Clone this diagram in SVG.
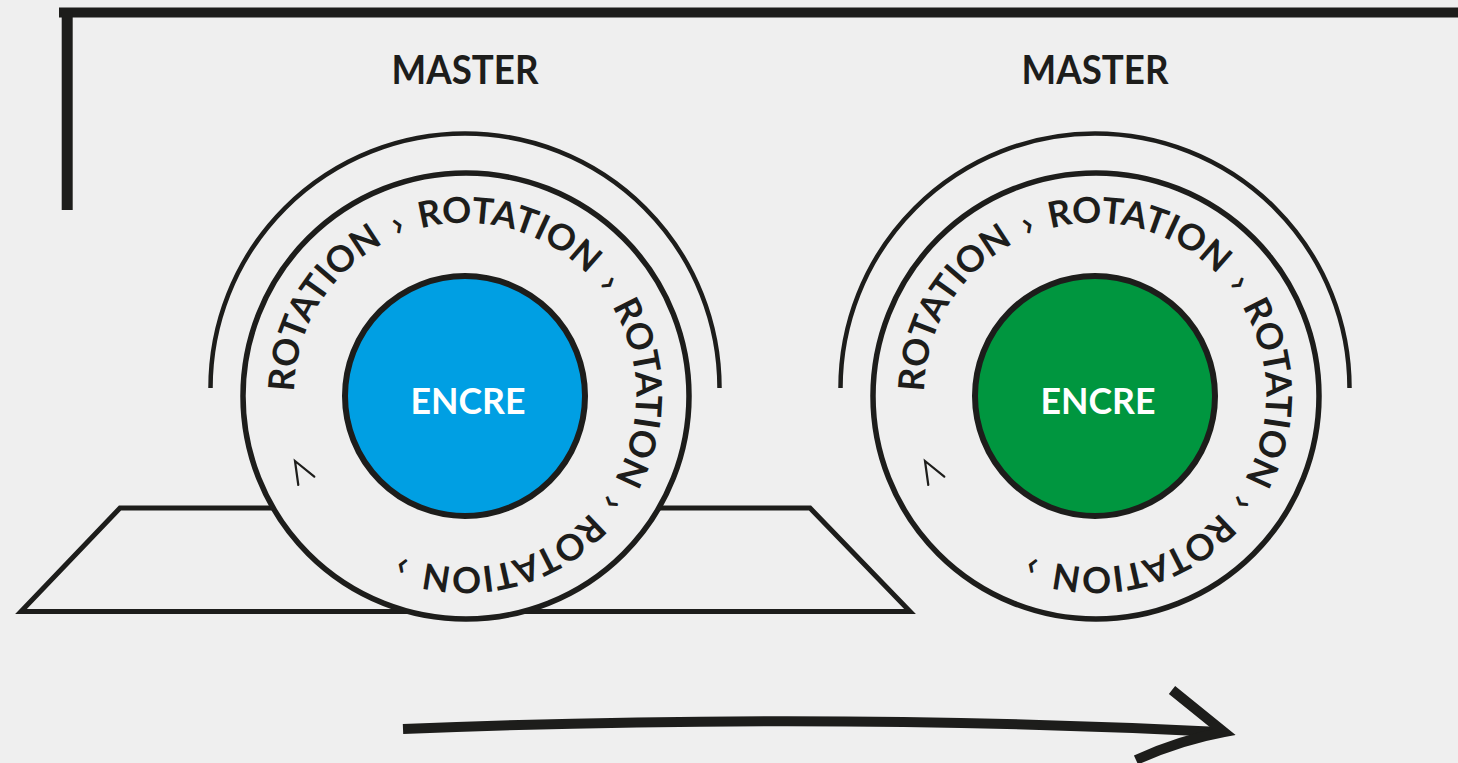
<svg xmlns="http://www.w3.org/2000/svg" xmlns:xlink="http://www.w3.org/1999/xlink" width="1458" height="763" viewBox="0 0 1458 763">
<defs>
<style>
.ink{fill:none;stroke:#1d1d1b;stroke-linecap:butt;stroke-linejoin:miter}
.arc{stroke-width:4.5}
.ring{fill:#efefef;stroke:#1d1d1b;stroke-width:5.5}
.core{stroke:#1d1d1b;stroke-width:6}
.blue{fill:#009fe3}
.green{fill:#00963f}
.title{font-family:Lato,"Open Sans","Liberation Sans",sans-serif;font-weight:700;font-size:40px;fill:#1d1d1b;text-anchor:middle}
.encre{font-family:Lato,"Open Sans","Liberation Sans",sans-serif;font-weight:700;font-size:37px;fill:#ffffff;text-anchor:middle}
.rt{font-family:Lato,"Open Sans","Liberation Sans",sans-serif;font-weight:700;font-size:36px;fill:#1d1d1b;word-spacing:6px}
.chev{fill:none;stroke:#1d1d1b;stroke-width:2.2;stroke-linecap:round;stroke-linejoin:miter}
.thick{fill:none;stroke:#1d1d1b;stroke-width:10}
</style>
<path id="ringL" d="M 294.03 392.02 A 171 171 0 1 1 635.97 397.98 A 171 171 0 1 1 294.03 392.02"/>
<path id="ringR" d="M 924.03 392.02 A 171 171 0 1 1 1265.97 397.98 A 171 171 0 1 1 924.03 392.02"/>
</defs>
<rect x="0" y="0" width="1458" height="763" fill="#efefef"/>

<g id="frame">
<line class="thick" x1="59" y1="12.5" x2="1458" y2="12.5"/>
<line class="ink" style="stroke-width:11" x1="67.2" y1="12" x2="67.2" y2="210"/>
</g>

<g id="base">
<polygon class="ink" style="stroke-width:5" points="120,508 810,508 910,611.5 21,611.5"/>
</g>

<g id="master-1">
<text class="title" x="465" y="83.5" textLength="147" lengthAdjust="spacingAndGlyphs">MASTER</text>
<path class="ink arc" d="M 210.5 388 A 254.5 254.5 0 0 1 719.5 388"/>
<circle class="ring" cx="466" cy="396" r="223"/>
<circle class="core blue" cx="465" cy="396" r="120"/>
<text class="encre" x="468" y="413.5" textLength="115" lengthAdjust="spacingAndGlyphs">ENCRE</text>
<text class="rt"><textPath xlink:href="#ringL" href="#ringL" startOffset="0">ROTATION › ROTATION › ROTATION › ROTATION ›</textPath></text>
<polyline class="chev" points="314.3,476.7 295,461 298.3,485"/>
</g>

<g id="master-2">
<text class="title" x="1095" y="83.5" textLength="147" lengthAdjust="spacingAndGlyphs">MASTER</text>
<path class="ink arc" d="M 840.5 388 A 254.5 254.5 0 0 1 1349.5 388"/>
<circle class="ring" cx="1096" cy="396" r="223"/>
<circle class="core green" cx="1095" cy="396" r="120"/>
<text class="encre" x="1098" y="413.5" textLength="115" lengthAdjust="spacingAndGlyphs">ENCRE</text>
<text class="rt"><textPath xlink:href="#ringR" href="#ringR" startOffset="0">ROTATION › ROTATION › ROTATION › ROTATION ›</textPath></text>
<polyline class="chev" points="944.3,476.7 925,461 928.3,485"/>
</g>

<g id="connectors">
<path class="thick" d="M 403 729 Q 830 712 1220 732"/>
<path class="thick" d="M 1172 690 L 1224 732 Q 1180 740 1136 760"/>
</g>
</svg>
